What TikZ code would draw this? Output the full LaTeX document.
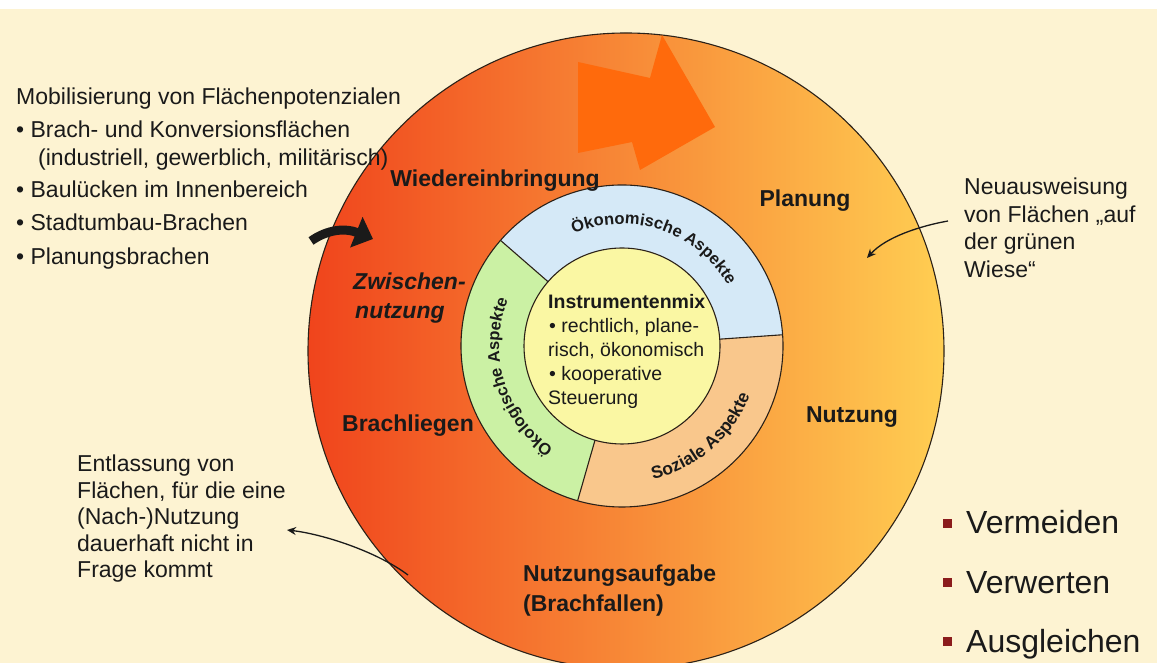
\documentclass[tikz,border=0pt]{standalone}
\usepackage{fontspec}
\setmainfont{Liberation Sans}
\usetikzlibrary{arrows.meta,decorations.text}

\definecolor{cream}{HTML}{FDF3D2}
\definecolor{ink}{HTML}{1A1A1A}
\definecolor{cyclered}{HTML}{F0441C}
\definecolor{cycleorange}{HTML}{FF9A38}
\definecolor{cycleyellow}{HTML}{FFCE52}
\definecolor{outline}{HTML}{2B2118}
\definecolor{sececon}{HTML}{D5E9F7}
\definecolor{sececol}{HTML}{CBF1A4}
\definecolor{secsoc}{HTML}{F9C78C}
\definecolor{coreyellow}{HTML}{FAF7A3}
\definecolor{bigorange}{HTML}{FF6A0C}
\definecolor{bulletred}{HTML}{8B1C1C}

\newcommand{\ringfont}[1]{\bfseries\fontsize{#1}{#1}\selectfont}

\begin{document}
\begin{tikzpicture}[x=1pt,y=1pt,
  ringline/.style={draw=outline, line width=1.1pt},
  phase/.style={font=\fontsize{23}{27}\selectfont\bfseries, text=ink, inner sep=0pt},
  note/.style={font=\fontsize{23}{27}\selectfont, text=ink, inner sep=0pt, anchor=base west},
  coretext/.style={font=\fontsize{19.5}{24}\selectfont, text=ink, inner sep=0pt, anchor=base west},
  goal/.style={font=\fontsize{32}{36}\selectfont, text=ink, inner sep=0pt, anchor=base west},
  goalmark/.style={fill=bulletred, minimum size=9pt, inner sep=0pt},
  pointer/.style={draw=ink, line width=1.3pt, -{Stealth[length=9pt,width=8pt]}},
  ringtext/.style={decorate, decoration={text along path, text align=center,
      text color=ink, text={#1}}}
]
\useasboundingbox (0,0) rectangle (1157,663);

% page background
\fill[cream] (0,0) rectangle (1157,654);
\fill[white] (0,654) rectangle (1157,663);

% outer cycle disc with horizontal colour gradient
\coordinate (O) at (626,312);
\begin{scope}
  \clip (0,0) rectangle (1157,663);
  \shade[left color=cyclered, middle color=cycleorange, right color=cycleyellow]
    (O) circle (318);
  \draw[ringline] (O) circle (318);
\end{scope}

% orange direction arrow at the top of the cycle
\fill[bigorange] (578,601) -- (650,585) -- (662,628) -- (715,536)
  -- (640,493) -- (632,521) -- (578,510) -- cycle;

% inner ring with three aspect segments
\coordinate (C) at (622,317);
\fill[sececon] (C) -- ([shift={(4:161)}]C) arc[start angle=4, end angle=139, radius=161] -- cycle;
\fill[sececol] (C) -- ([shift={(139:161)}]C) arc[start angle=139, end angle=254, radius=161] -- cycle;
\fill[secsoc] (C) -- ([shift={(254:161)}]C) arc[start angle=254, end angle=364, radius=161] -- cycle;
\draw[ringline] (C) circle (161);
\node[circle, fill=coreyellow, ringline, minimum size=196pt, inner sep=0pt] (core) at (C) {};
\draw[ringline] ([shift={(4:98)}]C) -- ([shift={(4:161)}]C);
\draw[ringline] ([shift={(139:98)}]C) -- ([shift={(139:161)}]C);
\draw[ringline] ([shift={(254:98)}]C) -- ([shift={(254:161)}]C);

% segment titles along the ring, set in bold
\path[ringtext={|\ringfont{16.5}|Ökonomische Aspekte}]
  ([shift={(151:122)}]C) arc[start angle=151, end angle=-8, radius=122];
\path[ringtext={|\ringfont{16.5}|Ökologische Aspekte}]
  ([shift={(250:123)}]C) arc[start angle=250, end angle=144, radius=123];
\path[ringtext={|\ringfont{17.5}|Soziale Aspekte}]
  ([shift={(275:137)}]C) arc[start angle=275, end angle=347, radius=137];

% core text
\node[coretext] (mix1) at (548,354) {\bfseries Instrumentenmix};
\node[coretext] (mix2) at (549,330) {• rechtlich, plane-};
\node[coretext] (mix3) at (548,306) {risch, ökonomisch};
\node[coretext] (mix4) at (549,282) {• kooperative};
\node[coretext] (mix5) at (548,258) {Steuerung};

% phases of the cycle
\node[phase, anchor=base] (wieder) at (495,476) {Wiedereinbringung};
\node[phase, anchor=base] (plan) at (805,456) {Planung};
\node[phase, anchor=base west] (zw1) at (353,373) {\itshape Zwischen-};
\node[phase, anchor=base west] (zw2) at (355,344) {\itshape nutzung};
\node[phase, anchor=base] (brach) at (408,231) {Brachliegen};
\node[phase, anchor=base] (nutz) at (852,240) {Nutzung};
\node[phase, anchor=base west] (aufg1) at (523,81) {Nutzungsaufgabe};
\node[phase, anchor=base west] (aufg2) at (523,51) {(Brachfallen)};

% mobilisation list (left)
\node[note] (mob0) at (16,558) {Mobilisierung von Flächenpotenzialen};
\node[note] (mob1) at (16,525) {• Brach- und Konversionsflächen};
\node[note] (mob1b) at (38,497) {(industriell, gewerblich, militärisch)};
\node[note] (mob2) at (16,465) {• Baulücken im Innenbereich};
\node[note] (mob3) at (16,432) {• Stadtumbau-Brachen};
\node[note] (mob4) at (16,398) {• Planungsbrachen};

% black entry arrow
\coordinate (entryS) at (311,422);
\coordinate (entryE) at (373,424);
\draw[ink, line width=9pt, -{Triangle[length=18pt,width=32pt]}]
  (entryS) .. controls (328,434) and (346,435) .. (entryE);

% new designation note (right)
\node[note] (neu1) at (964,468) {Neuausweisung};
\node[note] (neu2) at (964,440) {von Flächen „auf};
\node[note] (neu3) at (964,413) {der grünen};
\node[note] (neu4) at (964,385) {Wiese“};
\coordinate (neuS) at (948,442);
\coordinate (neuE) at (867,405);
\draw[pointer] (neuS) .. controls (920,437) and (886,426) .. (neuE);

% release note (lower left)
\node[note] (ent1) at (77,191) {Entlassung von};
\node[note] (ent2) at (77,164.5) {Flächen, für die eine};
\node[note] (ent3) at (77,138) {(Nach-)Nutzung};
\node[note] (ent4) at (77,111.5) {dauerhaft nicht in};
\node[note] (ent5) at (77,85) {Frage kommt};
\coordinate (entS) at (408,88);
\coordinate (entE) at (287,133);
\draw[pointer] (entS) .. controls (376,112) and (322,129) .. (entE);

% goals (lower right)
\node[goalmark] (m1) at (947.5,139.5) {};
\node[goalmark] (m2) at (947.5,80.5) {};
\node[goalmark] (m3) at (947.5,21.5) {};
\node[goal] (g1) at (966,129) {Vermeiden};
\node[goal] (g2) at (966,69) {Verwerten};
\node[goal] (g3) at (966,10) {Ausgleichen};
\end{tikzpicture}
\end{document}
